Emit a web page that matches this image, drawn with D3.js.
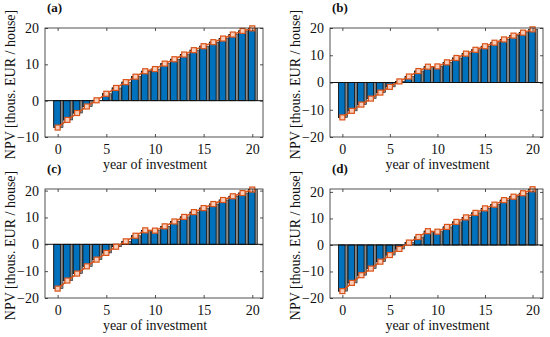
<!DOCTYPE html>
<html>
<head>
<meta charset="utf-8">
<script src="https://cdn.jsdelivr.net/npm/d3@7"></script>
<style>
  body { margin: 0; background: #fff; }
  svg text { font-family: "Liberation Serif", "DejaVu Serif", serif; fill: #111; }
</style>
</head>
<body>
<svg id="chart" width="550" height="337"></svg>
<script>
// NPV per year of investment, one array per panel
const years = d3.range(0, 21);
const npvA = [-7.4, -5.3, -3.4, -1.6, 0.1, 1.9, 3.5, 5.1, 6.6, 8.1, 8.7, 10.2, 11.4, 12.7, 13.9, 15.0, 16.1, 17.1, 18.2, 19.2, 19.9];
const npvB = [-12.8, -10.4, -8.1, -5.9, -3.7, -1.6, 0.4, 2.2, 4.2, 5.8, 5.9, 7.4, 9.0, 10.6, 12.0, 13.3, 14.6, 15.8, 17.2, 18.3, 19.5];
const npvC = [-16.5, -13.5, -10.9, -8.2, -5.7, -3.2, -0.9, 1.1, 3.2, 5.2, 5.1, 6.7, 8.5, 10.2, 12.0, 13.5, 15.0, 16.5, 17.9, 19.1, 20.4];
const npvD = [-17.4, -14.3, -11.4, -8.9, -6.3, -3.8, -1.5, 0.9, 3.0, 5.2, 5.0, 6.8, 8.7, 10.4, 12.1, 13.8, 15.2, 16.9, 18.2, 19.5, 21.0];
const xTicks = [0, 5, 10, 15, 20];
const yTicksA = [-10, 0, 10, 20];
const yTicksB = [-20, -10, 0, 10, 20];

const panels = [
  { label: "(a)", values: npvA, yDomain: [-10, 20], yTicks: yTicksA, x0: 45, x1: 263, y0: 28, y1: 137 },
  { label: "(b)", values: npvB, yDomain: [-20, 20], yTicks: yTicksB, x0: 330, x1: 543, y0: 28, y1: 137 },
  { label: "(c)", values: npvC, yDomain: [-20, 20.6], yTicks: yTicksB, x0: 45, x1: 263, y0: 189, y1: 298 },
  { label: "(d)", values: npvD, yDomain: [-20, 21.1], yTicks: yTicksB, x0: 330, x1: 543, y0: 189, y1: 298 }
];

const svg = d3.select("#chart");
const axisColor = "#262626";
const blue = "#0072BD";
const orange = "#D95319";

panels.forEach(function (p) {
  const x = d3.scaleLinear().domain([-1.3, 21.1]).range([p.x0, p.x1]);
  const y = d3.scaleLinear().domain(p.yDomain).range([p.y1, p.y0]);
  const g = svg.append("g");
  const data = years.map((yr, i) => ({ yr: yr, v: p.values[i] }));
  const unit = x(1) - x(0);

  // gray backing bars (gap between the blue bars)
  g.append("g").selectAll("rect")
    .data(data)
    .enter()
    .append("rect")
    .attr("x", d => x(d.yr) - 0.4 * unit)
    .attr("width", 0.95 * unit)
    .attr("y", d => Math.min(y(d.v), y(0)))
    .attr("height", d => Math.abs(y(d.v) - y(0)))
    .attr("fill", "#8a8a8a")
    .attr("stroke", "#222")
    .attr("stroke-width", 0.6);

  // blue bars
  g.append("g").selectAll("rect")
    .data(data)
    .enter()
    .append("rect")
    .attr("x", d => x(d.yr) - 0.4 * unit)
    .attr("width", 0.68 * unit)
    .attr("y", d => Math.min(y(d.v), y(0)))
    .attr("height", d => Math.abs(y(d.v) - y(0)))
    .attr("fill", blue)
    .attr("stroke", "#111")
    .attr("stroke-width", 0.8);

  // zero baseline
  g.append("line")
    .attr("x1", p.x0).attr("x2", p.x1)
    .attr("y1", y(0)).attr("y2", y(0))
    .attr("stroke", "#111")
    .attr("stroke-width", 1);

  // line with square markers
  const line = d3.line()
    .x(d => x(d.yr))
    .y(d => y(d.v));
  g.append("path")
    .datum(data)
    .attr("d", line)
    .attr("fill", "none")
    .attr("stroke", orange)
    .attr("stroke-width", 1.5);
  g.append("g").selectAll("rect")
    .data(data)
    .enter()
    .append("rect")
    .attr("x", d => x(d.yr) - 2.5)
    .attr("y", d => y(d.v) - 2.5)
    .attr("width", 5)
    .attr("height", 5)
    .attr("fill", "#f8cdb9")
    .attr("stroke", orange)
    .attr("stroke-width", 1.2);

  // box
  g.append("rect")
    .attr("x", p.x0).attr("y", p.y0)
    .attr("width", p.x1 - p.x0).attr("height", p.y1 - p.y0)
    .attr("fill", "none")
    .attr("stroke", axisColor)
    .attr("stroke-width", 0.8);

  // axes, ticks pointing inward
  const fmt = d3.format("d");
  const xAxis = g.append("g")
    .attr("transform", `translate(0,${p.y1})`)
    .call(d3.axisBottom(x).tickValues(xTicks).tickSizeInner(-3).tickSizeOuter(0).tickPadding(7).tickFormat(fmt));
  const xTop = g.append("g")
    .attr("transform", `translate(0,${p.y0})`)
    .call(d3.axisTop(x).tickValues(xTicks).tickSizeInner(-3).tickSizeOuter(0).tickFormat(""));
  const yAxis = g.append("g")
    .attr("transform", `translate(${p.x0},0)`)
    .call(d3.axisLeft(y).tickValues(p.yTicks).tickSizeInner(-3).tickSizeOuter(0).tickPadding(6).tickFormat(fmt));
  const yRight = g.append("g")
    .attr("transform", `translate(${p.x1},0)`)
    .call(d3.axisRight(y).tickValues(p.yTicks).tickSizeInner(-3).tickSizeOuter(0).tickFormat(""));
  [xAxis, xTop, yAxis, yRight].forEach(function (a) {
    a.select(".domain").remove();
    a.selectAll(".tick line").attr("stroke", axisColor).attr("stroke-width", 0.8);
    a.selectAll("text")
      .attr("font-family", "Liberation Serif, DejaVu Serif, serif")
      .attr("font-size", 14)
      .attr("fill", "#111");
  });

  // labels
  g.append("text")
    .attr("x", (p.x0 + p.x1) / 2 + 1)
    .attr("y", p.y1 + 32)
    .attr("text-anchor", "middle")
    .attr("font-size", 14)
    .text("year of investment");

  g.append("text")
    .attr("transform", `translate(${p.x0 - 35},${(p.y0 + p.y1) / 2 + 2}) rotate(-90)`)
    .attr("text-anchor", "middle")
    .attr("dy", "0.35em")
    .attr("font-size", 14)
    .text("NPV [thous. EUR / house]");

  g.append("text")
    .attr("x", p.x0 + 2)
    .attr("y", p.y0 - 16)
    .attr("font-size", 13)
    .attr("font-weight", "bold")
    .text(p.label);
});
</script>
</body>
</html>
